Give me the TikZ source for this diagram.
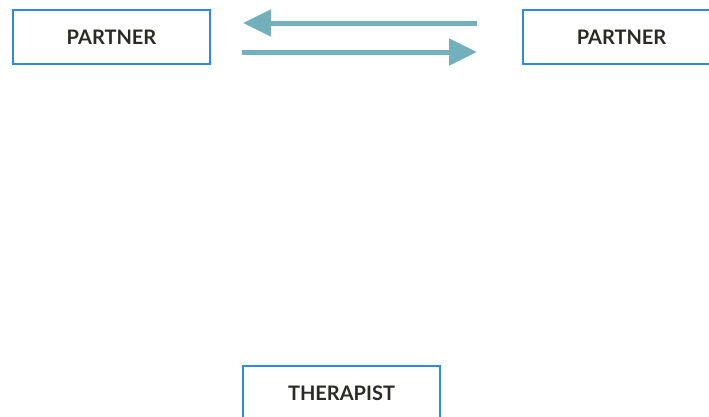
\documentclass[tikz,border=0pt]{standalone}
\usepackage{fontspec}
\setmainfont{Lato}
\usetikzlibrary{arrows.meta}
\definecolor{boxblue}{HTML}{2F8BE2}
\definecolor{txt}{HTML}{2B2B24}
\definecolor{arr}{HTML}{72B0BB}
\begin{document}
\begin{tikzpicture}[x=1pt,y=-1pt,
  pbox/.style={draw=boxblue,line width=1.6pt,minimum width=197pt,minimum height=54pt,inner sep=0pt,
    font=\fontsize{20}{24}\selectfont\bfseries,text=txt},
  flow/.style={draw=arr,line width=5pt,-{Triangle[length=28pt,width=26pt]}}]
\useasboundingbox (0,0) rectangle (709,416);
\clip (0,0) rectangle (709,416);
\node[pbox] (p1) at (111.5,37) {PARTNER};
\node[pbox] (p2) at (621.5,37) {PARTNER};
\node[pbox] (th) at (341.5,393) {THERAPIST};
\coordinate (a1s) at (477,23);
\coordinate (a1e) at (243,23);
\coordinate (a2s) at (242,52);
\coordinate (a2e) at (477,52);
\draw[flow] (a1s) -- (a1e);
\draw[flow] (a2s) -- (a2e);
\end{tikzpicture}
\end{document}
